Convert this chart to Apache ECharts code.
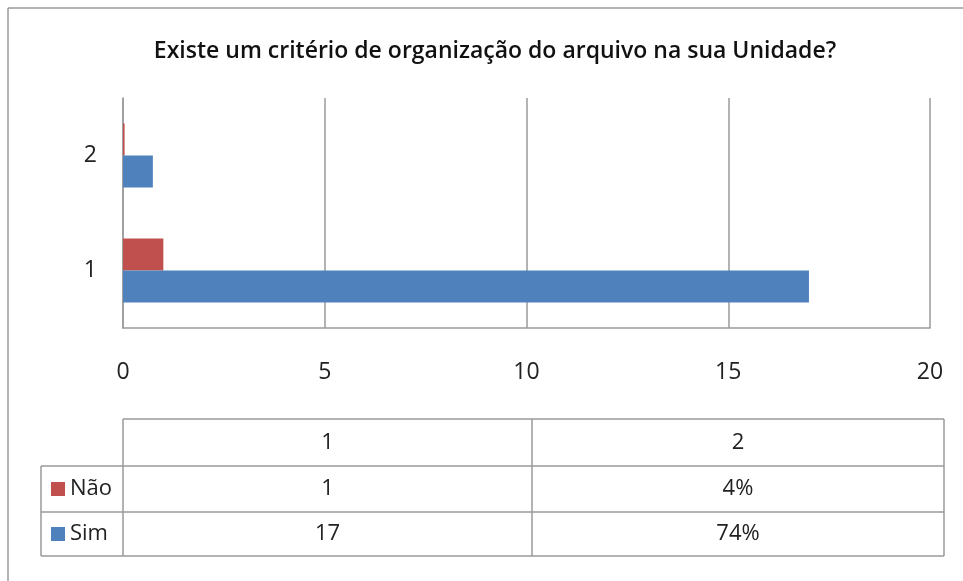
<!DOCTYPE html>
<html>
<head>
<meta charset="utf-8">
<title>Existe um critério de organização do arquivo na sua Unidade?</title>
<script src="https://cdn.jsdelivr.net/npm/echarts@6/dist/echarts.min.js"></script>
<style>
  html, body { margin: 0; padding: 0; background: #fff; }
  #chart { width: 963px; height: 581px; }
</style>
</head>
<body>
<div id="chart"></div>
<script>
// dados
var categories = ['1', '2'];
var seriesNames = ['Não', 'Sim'];
var naoValues = [1, 0.04];
var simValues = [17, 0.74];
var naoLabels = ['1', '4%'];
var simLabels = ['17', '74%'];
var xTicks = [0, 5, 10, 15, 20];

var colors = ['#C0504D', '#4F81BD'];
var lineColor = '#9a9a9a';
var font = 'Open Sans';

var chart = echarts.init(document.getElementById('chart'), null, { renderer: 'canvas' });

// tabela de dados em baixo (como no Excel)
function hline(x1, x2, y) {
    return { type: 'line', shape: { x1: x1, y1: y, x2: x2, y2: y }, style: { stroke: lineColor, lineWidth: 1.5 } };
}
function vline(x, y1, y2) {
    return { type: 'line', shape: { x1: x, y1: y1, x2: x, y2: y2 }, style: { stroke: lineColor, lineWidth: 1.5 } };
}
function cellText(txt, x, y, align) {
    return {
        type: 'text', x: x, y: y,
        style: { text: txt, font: '22px "' + font + '"', fill: '#222', align: align || 'center', verticalAlign: 'middle' }
    };
}

var colX = [123, 532, 944];
var rowY = [419, 466, 512, 556];
var graphics = [
    hline(colX[0], colX[2], rowY[0]),
    hline(41, colX[2], rowY[1]),
    hline(41, colX[2], rowY[2]),
    hline(41, colX[2], rowY[3]),
    vline(41, rowY[1], rowY[3]),
    vline(colX[0], rowY[0], rowY[3]),
    vline(colX[1], rowY[0], rowY[3]),
    vline(colX[2], rowY[0], rowY[3]),
    // moldura do gráfico
    hline(8, 963, 8),
    vline(8, 8, 581)
];
var rowLabels = [naoLabels, simLabels];
categories.forEach(function (c, i) {
    var cx = (colX[i] + colX[i + 1]) / 2;
    graphics.push(cellText(c, cx, (rowY[0] + rowY[1]) / 2));
    rowLabels.forEach(function (labels, r) {
        graphics.push(cellText(labels[i], cx, (rowY[r + 1] + rowY[r + 2]) / 2));
    });
});
seriesNames.forEach(function (name, r) {
    var cy = (rowY[r + 1] + rowY[r + 2]) / 2;
    graphics.push({ type: 'rect', shape: { x: 51, y: cy - 7, width: 14, height: 14 }, style: { fill: colors[r] } });
    graphics.push(cellText(name, 70, cy, 'left'));
});

chart.setOption({
    animation: false,
    title: {
        text: 'Existe um critério de organização do arquivo na sua Unidade?',
        left: 490,
        textAlign: 'center',
        top: 35,
        textStyle: { fontFamily: font, fontSize: 23, fontWeight: 600, color: '#111' }
    },
    grid: { left: 123, right: 33, top: 98, bottom: 253, containLabel: false },
    xAxis: {
        type: 'value',
        min: xTicks[0],
        max: xTicks[xTicks.length - 1],
        interval: xTicks[1] - xTicks[0],
        axisLine: { show: true, lineStyle: { color: lineColor, width: 1.5 } },
        axisTick: { show: false },
        splitLine: { show: true, lineStyle: { color: lineColor, width: 1.5 } },
        axisLabel: { margin: 33, fontFamily: font, fontSize: 23, color: '#222' }
    },
    yAxis: {
        type: 'category',
        data: categories,
        axisLine: { show: true, lineStyle: { color: lineColor, width: 1.5 } },
        axisTick: { show: false },
        axisLabel: { margin: 26, fontFamily: font, fontSize: 23, color: '#222' }
    },
    series: [
        { name: seriesNames[0], type: 'bar', data: naoValues, barWidth: 32, barGap: '0%', itemStyle: { color: colors[0] } },
        { name: seriesNames[1], type: 'bar', data: simValues, barWidth: 32, barGap: '0%', itemStyle: { color: colors[1] } }
    ],
    graphic: graphics
});
</script>
</body>
</html>
